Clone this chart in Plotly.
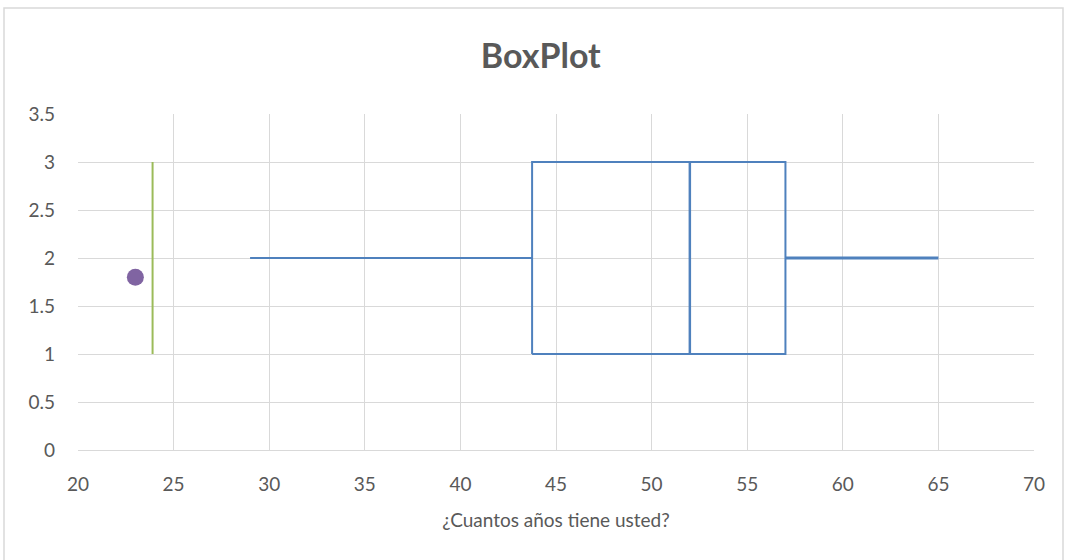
import plotly.graph_objects as go

# Box plot summary values (x = age)
whisker_min = 29
q1 = 43.75
median = 52
q3 = 57
whisker_max = 65
box_y_low = 1
box_y_high = 3
whisker_y = 2

# Green reference line and outlier point
ref_line_x = 23.9
outlier_x = [23]
outlier_y = [1.8]

title_text = "BoxPlot"
x_title = "¿Cuantos años tiene usted?"
x_ticks = [20, 25, 30, 35, 40, 45, 50, 55, 60, 65, 70]
y_ticks = [0, 0.5, 1, 1.5, 2, 2.5, 3, 3.5]
y_tick_text = ["0", "0.5", "1", "1.5", "2", "2.5", "3", "3.5"]

BLUE = "#4f81bd"
GREEN = "#9bbb59"
PURPLE = "#8064a2"
TXT = "#595959"
GRID = "#d9d9d9"
FONT = "Lato, sans-serif"

fig = go.Figure()
# left whisker
fig.add_trace(go.Scatter(x=[whisker_min, q1], y=[whisker_y, whisker_y], mode="lines",
                         line=dict(color=BLUE, width=2), showlegend=False, hoverinfo="skip"))
# box
fig.add_trace(go.Scatter(x=[q1, q3, q3, q1, q1],
                         y=[box_y_low, box_y_low, box_y_high, box_y_high, box_y_low],
                         mode="lines", line=dict(color=BLUE, width=2), showlegend=False))
# median
fig.add_trace(go.Scatter(x=[median, median], y=[box_y_low, box_y_high], mode="lines",
                         line=dict(color=BLUE, width=2.5), showlegend=False))
# right whisker
fig.add_trace(go.Scatter(x=[q3, whisker_max], y=[whisker_y, whisker_y], mode="lines",
                         line=dict(color=BLUE, width=3), showlegend=False))
# green line
fig.add_trace(go.Scatter(x=[ref_line_x, ref_line_x], y=[box_y_low, box_y_high], mode="lines",
                         line=dict(color=GREEN, width=2), showlegend=False))
# outlier
fig.add_trace(go.Scatter(x=outlier_x, y=outlier_y, mode="markers",
                         marker=dict(color=PURPLE, size=17, line=dict(width=0)), showlegend=False))

fig.update_layout(
    width=1065, height=560,
    margin=dict(l=78, r=31, t=114, b=110),
    paper_bgcolor="white", plot_bgcolor="white",
    font=dict(family=FONT, color=TXT, size=19),
    title=dict(text="<b>" + title_text + "</b>", x=0.5078, xanchor="center",
               y=1 - 56 / 560, yanchor="middle", yref="container",
               font=dict(family=FONT, size=34, color=TXT)),
    xaxis=dict(range=[20, 70], tickvals=x_ticks, ticks="", showgrid=True, gridcolor=GRID,
               gridwidth=1, zeroline=False, showline=True, linecolor=GRID, linewidth=1,
               ticklabelstandoff=17, tickfont=dict(size=19, color=TXT),
               title=dict(text=x_title, font=dict(size=19, color=TXT), standoff=19)),
    yaxis=dict(range=[0, 3.5], tickvals=y_ticks, ticktext=y_tick_text, ticks="", showgrid=True,
               gridcolor=GRID, gridwidth=1, zeroline=False, showline=False,
               ticklabelstandoff=22, tickfont=dict(size=19, color=TXT)),
)

# chart-area border
fig.add_shape(type="rect", xref="paper", yref="paper",
              x0=(4 - 78) / 956, x1=(1063 - 78) / 956, y0=(450 - 575) / 336, y1=(450 - 8) / 336,
              line=dict(color=GRID, width=1.5), fillcolor="rgba(0,0,0,0)", layer="below")

fig.write_html("out.html", config={"displayModeBar": False},
               post_script="document.body.style.margin='0';document.body.style.overflow='hidden';")
